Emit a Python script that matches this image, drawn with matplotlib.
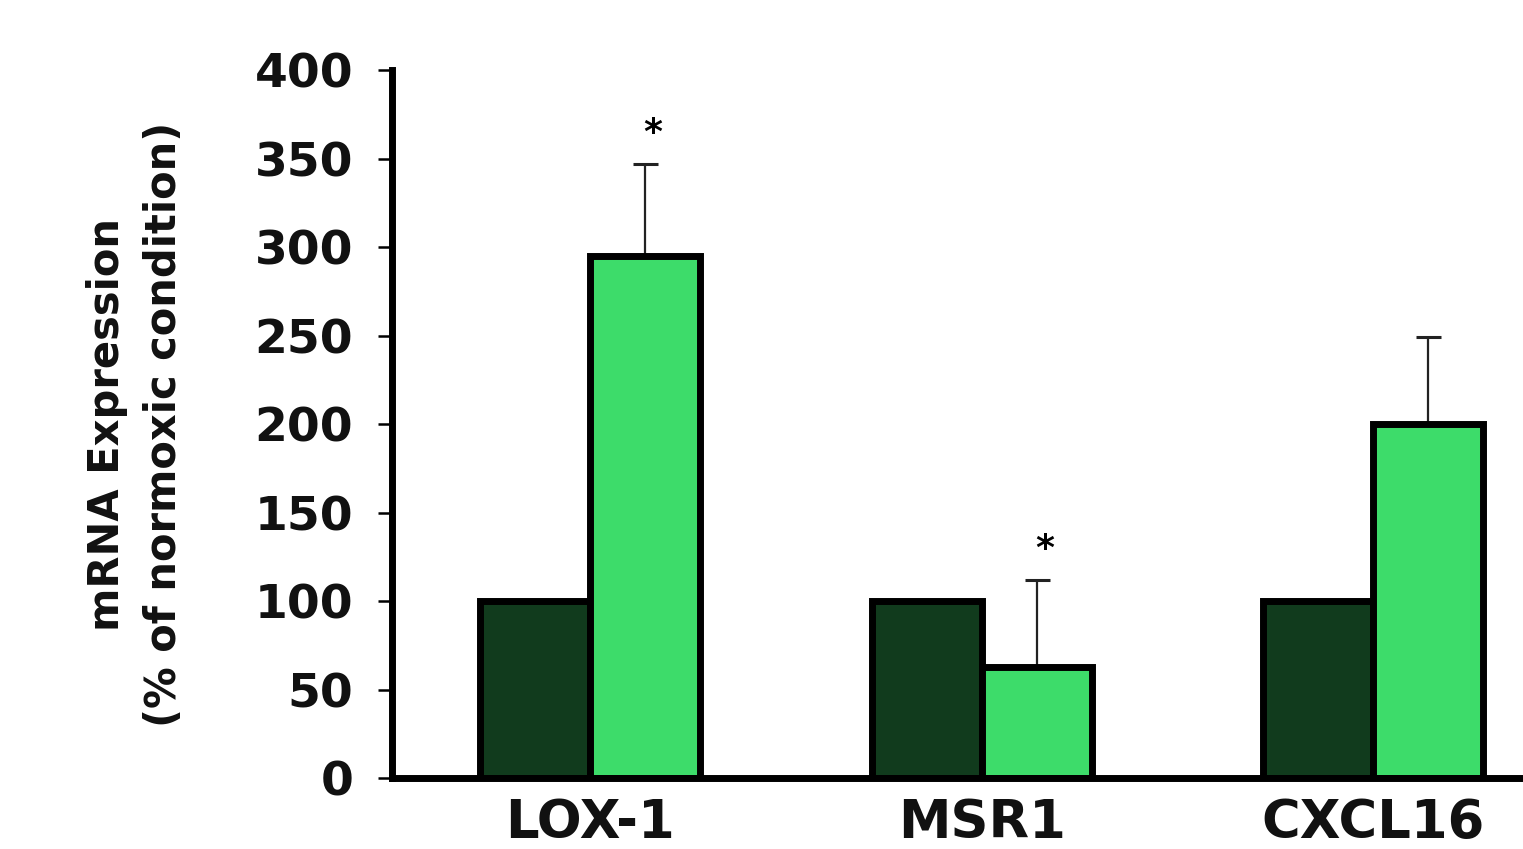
import matplotlib
matplotlib.use('Agg')
import matplotlib.pyplot as plt
import numpy as np

genes = ['LOX-1', 'MSR1', 'CXCL16']
normoxia = [100, 100, 100]
hypoxia = [295, 63, 200]
hypoxia_err = [52, 49, 49]
significant = [True, True, False]
yticks = [0, 50, 100, 150, 200, 250, 300, 350, 400]

dark = '#113b1d'
light = '#3ddc6a'

plt.rcParams['font.family'] = ['DejaVu Sans']
plt.rcParams['font.weight'] = 'bold'

fig = plt.figure(figsize=(15.23, 8.49), dpi=100)
ax = fig.add_axes([0.2574, 0.0836, 0.7426, 0.8339])

x = np.arange(len(genes))
w = 0.281

ax.bar(x - w / 2, normoxia, w, color=dark, edgecolor='black', linewidth=5, zorder=2)
ax.bar(x + w / 2, hypoxia, w, color=light, edgecolor='black', linewidth=5, zorder=2)
ax.errorbar(x + w / 2, hypoxia, yerr=[np.zeros(len(genes)), hypoxia_err],
            fmt='none', ecolor='#222222', elinewidth=1.6, capsize=9, capthick=2.2, zorder=1)

# stars above significant error bars
for i, s in enumerate(significant):
    if s:
        ax.text(x[i] + w / 2 + 0.02, hypoxia[i] + hypoxia_err[i] + 8, '*',
                ha='center', va='bottom', fontsize=26, fontweight='bold')

ax.set_xlim(-0.506, 2.383)
ax.set_ylim(0, 400)
ax.set_yticks(yticks)
ax.set_yticklabels([str(t) for t in yticks], fontsize=34, fontweight='bold', color='#111111')
ax.set_xticks(x)
ax.set_xticklabels(genes, fontsize=38, fontweight='bold', color='#111111')

ax.tick_params(axis='y', direction='out', length=10, width=1.8, pad=18)
ax.tick_params(axis='x', length=0, pad=14)

for side in ['top', 'right']:
    ax.spines[side].set_visible(False)
ax.spines['left'].set_linewidth(5)
ax.spines['bottom'].set_linewidth(5)

ax.set_ylabel('mRNA Expression\n(% of normoxic condition)', fontsize=30,
              fontweight='bold', linespacing=1.45, va='center', color='#111111')
ax.yaxis.set_label_coords(-0.227, 0.5)

plt.savefig('out.png', dpi=100)
